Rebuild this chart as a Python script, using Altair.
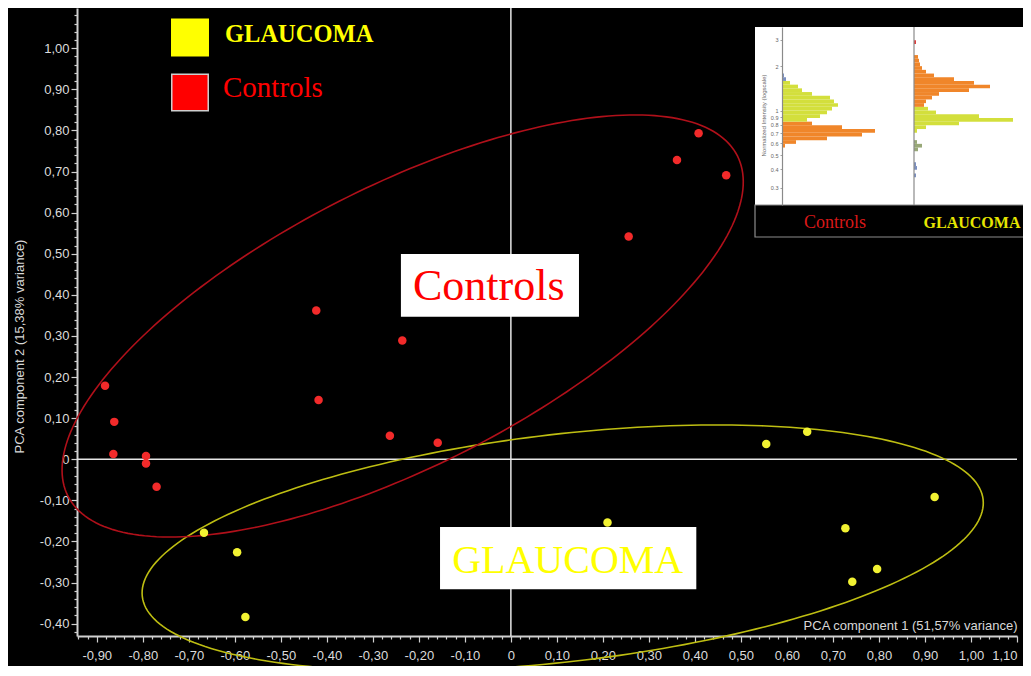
import altair as alt
import numpy as np
import pandas as pd

# ---------------- data ----------------
GROUPS = ["GLAUCOMA", "Controls"]

CTRL_PC1 = [-0.882, -0.862, -0.864, -0.793, -0.793, -0.770, -0.423, -0.418,
            -0.263, -0.236, -0.159, 0.256, 0.361, 0.408, 0.468]
CTRL_PC2 = [0.179, 0.091, 0.013, 0.008, -0.010, -0.067, 0.362, 0.144,
            0.057, 0.289, 0.040, 0.542, 0.728, 0.793, 0.691]
GLAU_PC1 = [-0.667, -0.595, -0.577, 0.210, 0.555, 0.644, 0.727, 0.742, 0.796, 0.921]
GLAU_PC2 = [-0.179, -0.226, -0.384, -0.154, 0.037, 0.067, -0.168, -0.298, -0.267, -0.092]

# group ellipses: centre and two conjugate semi-axis vectors (PC units)
ELL_CX = [0.1126, -0.2352]
ELL_CY = [-0.2158, 0.3243]
ELL_U = [(0.9137, 0.1181), (0.7273, 0.4143)]
ELL_V = [(-0.0284, 0.2751), (-0.1380, 0.3034)]

# inset histograms (log10 bins of normalized intensity)
BIN_LOG_START = -0.625
BIN_LOG_STEP = 0.025
CTRL_BINS = [15, 16, 17, 18, 19, 20, 21, 22, 23, 24, 25, 26, 27, 28, 29, 30, 31, 32, 33, 34]
CTRL_LEN = [3, 14, 45, 80, 93, 60, 30, 25, 38, 45, 50, 56, 52, 48, 30, 20, 16, 8, 4, 2]
CTRL_TONE = ["O", "O", "O", "O", "O", "O", "O", "Y", "Y", "Y", "Y", "Y", "Y", "Y",
             "Y", "Y", "Y", "Y", "B", "B"]
GLAU_BINS = [7, 9, 10, 14, 15, 16, 19, 20, 21, 22, 23, 24, 25, 26, 27, 28, 29, 30,
             31, 32, 33, 34, 35, 36, 37, 38, 39, 43]
GLAU_LEN = [2, 3, 2, 4, 8, 3, 3, 12, 45, 99, 65, 22, 14, 10, 12, 18, 25, 55, 76,
            60, 40, 20, 12, 8, 6, 5, 4, 2]
GLAU_TONE = ["B", "B", "B", "G", "G", "G", "Y", "Y", "Y", "Y", "Y", "Y", "Y",
             "O", "O", "O", "O", "O", "O", "O", "O", "O", "O", "O", "O", "O", "O", "R"]
INSET_TICKS = [0.3, 0.4, 0.5, 0.6, 0.7, 0.8, 0.9, 1, 2, 3]

# ---------------- styles ----------------
POINT_COLORS = ["#f2f232", "#f22a2a"]
ELLIPSE_COLORS = ["#bebe12", "#b0101a"]
LEGEND_COLORS = ["#ffff00", "#ff0000"]
TONE_COLORS = {"O": "#f0862a", "Y": "#d3df3c", "B": "#7b8fc0", "G": "#98a878", "R": "#e03c3c"}
AXIS_COLOR = "#d0d0d0"

W, H = 940, 628

# ---------------- tables ----------------
points_df = pd.DataFrame({
    "pc1": CTRL_PC1 + GLAU_PC1,
    "pc2": CTRL_PC2 + GLAU_PC2,
    "group": ["Controls"] * len(CTRL_PC1) + ["GLAUCOMA"] * len(GLAU_PC1),
})

ell_parts = []
t = np.linspace(0, 2 * np.pi, 241)
for g, cx, cy, u, v in zip(GROUPS, ELL_CX, ELL_CY, ELL_U, ELL_V):
    ell_parts.append(pd.DataFrame({
        "pc1": cx + u[0] * np.cos(t) + v[0] * np.sin(t),
        "pc2": cy + u[1] * np.cos(t) + v[1] * np.sin(t),
        "i": np.arange(len(t)),
        "group": g,
    }))
ell_df = pd.concat(ell_parts, ignore_index=True)


def hist_df(bins, lens, tones):
    lo = [10 ** (BIN_LOG_START + BIN_LOG_STEP * b) for b in bins]
    hi = [10 ** (BIN_LOG_START + BIN_LOG_STEP * (b + 1)) for b in bins]
    return pd.DataFrame({"lo": lo, "hi": hi, "len": lens,
                         "col": [TONE_COLORS[k] for k in tones]})


ctrl_hist = hist_df(CTRL_BINS, CTRL_LEN, CTRL_TONE)
glau_hist = hist_df(GLAU_BINS, GLAU_LEN, GLAU_TONE)

# ---------------- main scatter ----------------
MAJOR = "abs(datum.value*10 - round(datum.value*10)) < 0.001"
LABEL_EXPR = ("(" + MAJOR + ") ? (abs(datum.value) < 0.001 ? '0' : "
              "replace(replace(format(datum.value, '.2f'), '.', ','), '\u2212', '-')) : ''")

x_minor = [float(round(v, 2)) for v in np.arange(-0.94, 1.1001, 0.02)]
y_minor = [float(round(v, 2)) for v in np.arange(-0.42, 1.0901, 0.02)]

xscale = alt.Scale(domain=[-0.943, 1.10], nice=False, zero=False)
yscale = alt.Scale(domain=[-0.43, 1.098], nice=False, zero=False)

xaxis = alt.Axis(values=x_minor, tickCount=1000, labelExpr=LABEL_EXPR, labelOverlap=False,
                 labelFlush=True,
                 tickSize={"condition": {"test": MAJOR, "value": 6}, "value": 3},
                 grid=False, labelPadding=7,
                 title="PCA component 1 (51,57% variance)", titleX=W, titleY=-7,
                 titleAlign="right", titleBaseline="alphabetic")
yaxis = alt.Axis(values=y_minor, tickCount=1000, labelExpr=LABEL_EXPR, labelOverlap=False,
                 labelFlush=False,
                 tickSize={"condition": {"test": MAJOR, "value": 6}, "value": 3},
                 grid=False, labelPadding=2,
                 title="PCA component 2 (15,38% variance)", titleX=-58, titleY=338,
                 titleAngle=270, titleAlign="center", titleBaseline="middle")

X_ENC = alt.X("pc1:Q", scale=xscale, axis=xaxis)
Y_ENC = alt.Y("pc2:Q", scale=yscale, axis=yaxis)

base_one = pd.DataFrame({"k": [0]})

vline = alt.Chart(base_one).mark_rule(color="#e6e6e6", strokeWidth=1.5).encode(x=alt.datum(0))
hline = alt.Chart(base_one).mark_rule(color="#e6e6e6", strokeWidth=1.5).encode(y=alt.datum(0))

ellipses = alt.Chart(ell_df).mark_line(strokeWidth=1.6).encode(
    x=X_ENC, y=Y_ENC, detail="group:N", order="i:Q",
    color=alt.Color("group:N", scale=alt.Scale(domain=GROUPS, range=ELLIPSE_COLORS), legend=None),
)

points = alt.Chart(points_df).mark_circle(size=72, opacity=1).encode(
    x=X_ENC, y=Y_ENC,
    color=alt.Color("group:N", scale=alt.Scale(domain=GROUPS, range=POINT_COLORS), legend=None),
)

box_ctrl = alt.Chart(base_one).mark_rect(color="white").encode(
    x=alt.datum(-0.239), x2=alt.datum(0.148), y=alt.datum(0.4995), y2=alt.datum(0.347))
text_ctrl = alt.Chart(base_one).mark_text(
    text="Controls", font="Liberation Serif", fontSize=44, color="#ff0000",
    align="center", baseline="alphabetic").encode(x=alt.datum(-0.048), y=alt.datum(0.388))
box_glau = alt.Chart(base_one).mark_rect(color="white").encode(
    x=alt.datum(-0.154), x2=alt.datum(0.403), y=alt.datum(-0.165), y2=alt.datum(-0.316))
text_glau = alt.Chart(base_one).mark_text(
    text="GLAUCOMA", font="Liberation Serif", fontSize=40, color="#ffff00",
    align="center", baseline="alphabetic").encode(x=alt.datum(0.1235), y=alt.datum(-0.277))

main = alt.layer(vline, hline, ellipses, points, box_ctrl, text_ctrl, box_glau, text_glau
                 ).resolve_scale(color="independent")

# ---------------- legend (top-left) ----------------
legend_df = pd.DataFrame({"group": GROUPS})
leg_y = alt.Y("group:N", scale=alt.Scale(type="point", domain=GROUPS, range=[29.5, 84.5], padding=0),
              axis=None)
leg_sq = alt.Chart(legend_df).mark_square(size=1330, opacity=1, strokeWidth=1.5).encode(
    x=alt.value(113), y=leg_y,
    color=alt.Color("group:N", scale=alt.Scale(domain=GROUPS, range=LEGEND_COLORS), legend=None),
    stroke=alt.condition("datum.group == 'Controls'", alt.value("#cfcfcf"), alt.value("#ffff00")),
)
leg_t1 = alt.Chart(legend_df).transform_filter("datum.group == 'GLAUCOMA'").mark_text(
    font="Liberation Serif", fontSize=24.5, fontWeight="bold", color="#ffff00",
    align="left", baseline="alphabetic", dy=4.5).encode(x=alt.value(148), y=leg_y, text="group:N")
leg_t2 = alt.Chart(legend_df).transform_filter("datum.group == 'Controls'").mark_text(
    font="Liberation Serif", fontSize=29, color="#ff0000",
    align="left", baseline="alphabetic", dy=4.5).encode(x=alt.value(146), y=leg_y, text="group:N")
legend = alt.layer(leg_sq, leg_t1, leg_t2)

# ---------------- inset (top-right) ----------------
inset_y = alt.Scale(type="log", domain=[0.23, 3.67], range=[197, 19], nice=False)
inset_axis = alt.Axis(values=INSET_TICKS, tickCount=100, orient="left", offset=-705, zindex=2,
                      grid=False,
                      labelExpr="datum.value >= 1 ? format(datum.value, 'd') : format(datum.value, '.1f')",
                      labelFontSize=5.5, labelColor="#666666", labelPadding=2, labelFont="Liberation Sans",
                      tickSize=2, tickColor="#888888", tickWidth=0.8, domainColor="#8a8a8a",
                      domainWidth=1.2, labelOverlap=False, labelFlush=False,
                      title="Normalized Intensity (logscale)", titleFontSize=6, titleColor="#666666",
                      titleFontWeight="normal", titleX=-19, titleY=107, titleAngle=270,
                      titleAlign="center", titleBaseline="middle", titleFont="Liberation Sans")

inset_bg = alt.Chart(base_one).mark_rect(color="white").encode(
    x=alt.value(678), x2=alt.value(954), y=alt.value(19), y2=alt.value(197))
inset_strip = alt.Chart(base_one).mark_rect(color="black", stroke="#8c8c8c", strokeWidth=1.2).encode(
    x=alt.value(678), x2=alt.value(954), y=alt.value(197), y2=alt.value(229))

left_hist = alt.Chart(ctrl_hist).mark_rect().encode(
    x=alt.X("len:Q", scale=alt.Scale(domain=[0, 130], range=[705, 835]), axis=None),
    x2=alt.datum(0),
    y=alt.Y("lo:Q", scale=inset_y, axis=inset_axis),
    y2="hi:Q",
    color=alt.Color("col:N", scale=None),
)
right_hist = alt.Chart(glau_hist).mark_rect().encode(
    x=alt.X("len:Q", scale=alt.Scale(domain=[0, 130], range=[837, 967]), axis=None),
    x2=alt.datum(0),
    y=alt.Y("lo:Q", scale=inset_y, axis=inset_axis),
    y2="hi:Q",
    color=alt.Color("col:N", scale=None),
)
right_line = alt.Chart(base_one).mark_rule(color="#8a8a8a", strokeWidth=1.2).encode(
    x=alt.X("k:Q", scale=alt.Scale(domain=[0, 130], range=[837, 967]), axis=None),
    y=alt.datum(0.23), y2=alt.datum(3.67))

inset_t1 = alt.Chart(base_one).mark_text(
    text="Controls", font="Liberation Serif", fontSize=18, color="#d81818",
    align="center", baseline="alphabetic").encode(x=alt.value(758), y=alt.value(220))
inset_t2 = alt.Chart(base_one).mark_text(
    text="GLAUCOMA", font="Liberation Serif", fontSize=16, fontWeight="bold", color="#e6e600",
    align="center", baseline="alphabetic").encode(x=alt.value(895), y=alt.value(220))

inset = alt.layer(inset_bg, inset_strip, left_hist, right_hist, right_line, inset_t1, inset_t2
                  ).resolve_scale(x="independent")

# ---------------- compose ----------------
chart = alt.layer(main, legend, inset).resolve_scale(
    x="independent", y="independent", color="independent"
).properties(
    width=W, height=H,
    autosize=alt.AutoSizeParams(type="none"),
    padding={"left": 69, "top": 0, "right": 6, "bottom": 30},
    background="black",
).configure_view(stroke=None).configure_axis(
    domainColor=AXIS_COLOR, domainWidth=2, tickColor=AXIS_COLOR, tickWidth=1.2,
    labelColor="#dcdcdc", labelFont="Liberation Sans", labelFontSize=13,
    titleFont="Liberation Sans", titleFontSize=13, titleFontWeight="normal", titleColor="#d8d8d8",
)

chart.save("out.html", embed_options={"renderer": "svg", "actions": False})
